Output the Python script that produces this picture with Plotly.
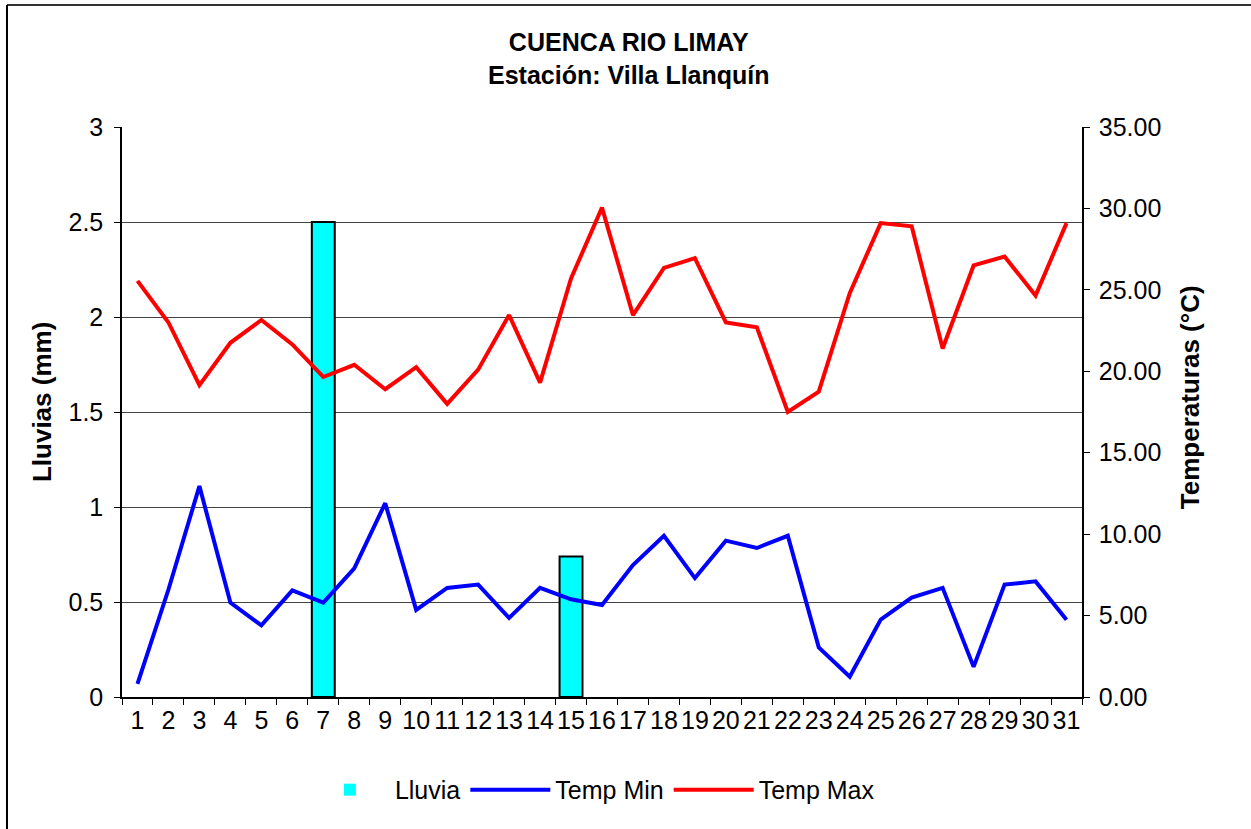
import plotly.graph_objects as go

days = [str(d) for d in range(1, 32)]
lluvia = [0, 0, 0, 0, 0, 0, 2.5, 0, 0, 0, 0, 0, 0, 0, 0.74, 0,
          0, 0, 0, 0, 0, 0, 0, 0, 0, 0, 0, 0, 0, 0, 0]
temp_min = [0.8, 6.6, 12.95, 5.8, 4.4, 6.55, 5.8, 7.9, 11.9, 5.35, 6.7, 6.9, 4.85, 6.7, 6.0, 5.65,
            8.1, 9.9, 7.3, 9.6, 9.15, 9.9, 3.05, 1.25, 4.75, 6.1, 6.7, 1.85, 6.9, 7.1, 4.75]
temp_max = [25.55, 23.0, 19.15, 21.75, 23.15, 21.65, 19.65, 20.4, 18.9, 20.25, 18.0, 20.1, 23.45, 19.3, 25.7, 30.05,
            23.45, 26.35, 26.95, 23.0, 22.7, 17.5, 18.75, 24.8, 29.1, 28.9, 21.4, 26.5, 27.05, 24.65, 29.1]

FONT = "Liberation Sans, Arial, sans-serif"

bar_outline = [2 if v > 0 else 0 for v in lluvia]

fig = go.Figure()
fig.add_trace(go.Bar(x=days, y=lluvia, name="Lluvia", width=0.74,
                     marker=dict(color="#00FFFF", line=dict(color="black", width=bar_outline)),
                     yaxis="y"))
fig.add_trace(go.Scatter(x=days, y=temp_min, name="Temp Min", mode="lines",
                         line=dict(color="#0000FF", width=4), yaxis="y2"))
fig.add_trace(go.Scatter(x=days, y=temp_max, name="Temp Max", mode="lines",
                         line=dict(color="#FF0000", width=4), yaxis="y2"))

fig.update_layout(
    width=1251, height=829,
    margin=dict(l=122, r=169, t=127, b=132, autoexpand=False),
    paper_bgcolor="white", plot_bgcolor="white",
    font=dict(family=FONT, size=25, color="black"),
    showlegend=True,
    legend=dict(orientation="h", x=0.49, xanchor="center", y=-0.163, yanchor="middle",
                font=dict(size=25), traceorder="normal", itemwidth=80),
    xaxis=dict(type="category", tickson="boundaries", ticks="outside", ticklen=6,
               tickcolor="black", showline=True, linecolor="black", linewidth=1.5,
               showgrid=False, tickangle=0, tickfont=dict(size=25)),
    yaxis=dict(range=[0, 3], dtick=0.5, ticks="outside", ticklen=6, tickcolor="black",
               showline=True, linecolor="black", linewidth=1.5,
               showgrid=True, gridcolor="#444444", gridwidth=1, zeroline=False,
               tickfont=dict(size=25), ticklabelstandoff=6),
    yaxis2=dict(range=[0, 35], dtick=5, tickformat=".2f", overlaying="y", side="right",
                ticks="outside", ticklen=6, tickcolor="black",
                showline=True, linecolor="black", linewidth=1.5,
                showgrid=False, zeroline=False, tickfont=dict(size=25), ticklabelstandoff=4),
    bargap=0.26,
)

fig.add_annotation(text="<b>CUENCA RIO LIMAY</b><br><b>Estación: Villa Llanquín</b>",
                   xref="paper", yref="paper", x=0.528, y=1.121, xanchor="center", yanchor="middle",
                   showarrow=False, font=dict(size=25, family=FONT), align="center")
fig.add_annotation(text="<b>Lluvias (mm)</b>", textangle=-90,
                   xref="paper", yref="paper", x=-0.0833, y=0.5175, xanchor="center", yanchor="middle",
                   showarrow=False, font=dict(size=26, family=FONT))
fig.add_annotation(text="<b>Temperaturas (°C)</b>", textangle=-90,
                   xref="paper", yref="paper", x=1.1125, y=0.526, xanchor="center", yanchor="middle",
                   showarrow=False, font=dict(size=26, family=FONT))

# outer chart frame (top and left edges)
fig.add_shape(type="line", xref="paper", yref="paper", x0=-0.1198, x1=1.2, y0=1.214, y1=1.214,
              line=dict(color="#333333", width=2))
fig.add_shape(type="line", xref="paper", yref="paper", x0=-0.1198, x1=-0.1198, y0=1.214, y1=-0.25,
              line=dict(color="black", width=2))

fig.write_html("out.html", config={"displayModeBar": False},
               post_script="document.body.style.margin='0';")
